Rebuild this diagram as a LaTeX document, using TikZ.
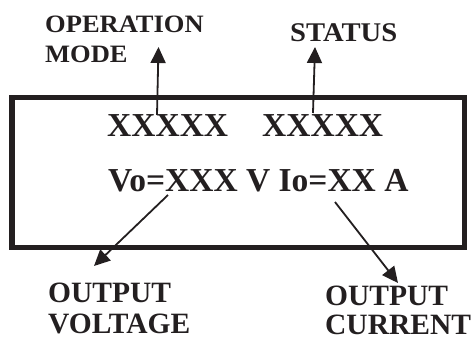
\documentclass[tikz,border=0pt]{standalone}
\usepackage{fontspec}
\setmainfont{Liberation Serif}
\newfontfamily\widefont[FakeStretch=1.06]{Liberation Serif}
\usepackage{xcolor}
\usepackage{tikz}
\usetikzlibrary{arrows.meta}
\definecolor{dink}{HTML}{231F20}

\begin{document}
\begin{tikzpicture}[x=1pt,y=-1pt,
  every node/.style={inner sep=0pt,text=dink},
  toplbl/.style={font=\fontsize{25}{30}\selectfont\widefont\bfseries,align=left,anchor=north west},
  botlbl/.style={font=\fontsize{29.5}{31}\selectfont\bfseries,align=left,anchor=north west},
  lcdtxt/.style={font=\fontsize{33.5}{36}\selectfont\bfseries,anchor=base west},
  pointer/.style={-{Triangle[length=16pt,width=15pt]},draw=dink,line width=1.8pt}]
  \useasboundingbox (0,0) rectangle (475,340);

  % display frame
  \draw[dink,line width=5.5pt] (12,97.5) rectangle (464.5,247.5);

  \node[lcdtxt] (mode) at (107,136) {XXXXX};
  \node[lcdtxt] (stat) at (262,136) {XXXXX};
  \node[lcdtxt] (vals) at (108,191) {Vo=XXX V Io=XX A};

  \node[toplbl] (modelbl) at (45,16) {OPERATION\\MODE};
  \node[toplbl,font=\fontsize{27}{30}\selectfont\widefont\bfseries] (statlbl) at (290,23.5) {STATUS};
  \node[botlbl] (voltlbl) at (48,283) {OUTPUT\\VOLTAGE};
  \node[botlbl,font=\fontsize{29.5}{29}\selectfont\bfseries] (currlbl) at (325,286) {OUTPUT\\CURRENT};

  % pointer ends
  \coordinate (modetail) at (157,115);
  \coordinate (modetip) at (158.5,47);
  \coordinate (stattail) at (313,113);
  \coordinate (stattip) at (315,47);
  \coordinate (volttail) at (168,195);
  \coordinate (volttip) at (94,266);
  \coordinate (currtail) at (335,202);
  \coordinate (currtip) at (398,283);

  \draw[pointer] (modetail) -- (modetip);
  \draw[pointer] (stattail) -- (stattip);
  \draw[pointer] (volttail) -- (volttip);
  \draw[pointer] (currtail) -- (currtip);
\end{tikzpicture}
\end{document}
